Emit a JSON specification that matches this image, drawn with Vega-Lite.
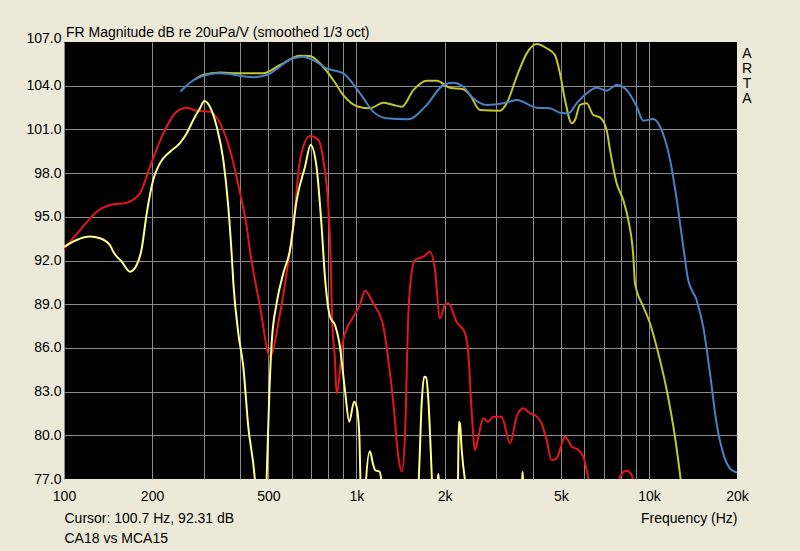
{
  "$schema": "https://vega.github.io/schema/vega-lite/v6.json",
  "width": 673,
  "height": 437,
  "autosize": "none",
  "padding": {"left": 64, "top": 42, "right": 63, "bottom": 72},
  "background": "#ECE9D8",
  "config": {
    "view": {"fill": "#000000", "stroke": null},
    "font": "Liberation Sans"
  },
  "title": {
    "text": "FR Magnitude dB re 20uPa/V (smoothed 1/3 oct)",
    "anchor": "start",
    "frame": "group",
    "fontSize": 14,
    "fontWeight": "normal",
    "font": "Liberation Sans",
    "color": "#000000",
    "baseline": "alphabetic",
    "offset": -20,
    "dx": 2
  },
  "data": {
    "values": [
      {"s": "olive", "f": 281, "db": 104.44},
      {"s": "olive", "f": 299, "db": 104.73},
      {"s": "olive", "f": 341, "db": 104.9},
      {"s": "olive", "f": 400, "db": 104.85},
      {"s": "olive", "f": 480, "db": 104.85},
      {"s": "olive", "f": 548, "db": 105.42},
      {"s": "olive", "f": 641, "db": 106.06},
      {"s": "olive", "f": 693, "db": 106.04},
      {"s": "olive", "f": 750, "db": 105.54},
      {"s": "olive", "f": 833, "db": 104.39},
      {"s": "olive", "f": 901, "db": 103.36},
      {"s": "olive", "f": 1014, "db": 102.56},
      {"s": "olive", "f": 1111, "db": 102.45},
      {"s": "olive", "f": 1236, "db": 102.83},
      {"s": "olive", "f": 1337, "db": 102.68},
      {"s": "olive", "f": 1429, "db": 102.56},
      {"s": "olive", "f": 1565, "db": 103.7},
      {"s": "olive", "f": 1738, "db": 104.34},
      {"s": "olive", "f": 1880, "db": 104.34},
      {"s": "olive", "f": 2088, "db": 103.86},
      {"s": "olive", "f": 2319, "db": 103.75},
      {"s": "olive", "f": 2444, "db": 103.36},
      {"s": "olive", "f": 2644, "db": 102.33},
      {"s": "olive", "f": 3095, "db": 102.28},
      {"s": "olive", "f": 3263, "db": 102.79},
      {"s": "olive", "f": 3530, "db": 104.62},
      {"s": "olive", "f": 3820, "db": 106.22},
      {"s": "olive", "f": 4130, "db": 106.86},
      {"s": "olive", "f": 4467, "db": 106.57},
      {"s": "olive", "f": 4772, "db": 106.1},
      {"s": "olive", "f": 4962, "db": 104.85},
      {"s": "olive", "f": 5165, "db": 103.02},
      {"s": "olive", "f": 5445, "db": 101.42},
      {"s": "olive", "f": 5588, "db": 101.65},
      {"s": "olive", "f": 5809, "db": 102.68},
      {"s": "olive", "f": 6125, "db": 102.79},
      {"s": "olive", "f": 6450, "db": 101.99},
      {"s": "olive", "f": 6800, "db": 101.83},
      {"s": "olive", "f": 7166, "db": 100.96},
      {"s": "olive", "f": 7360, "db": 99.59},
      {"s": "olive", "f": 7755, "db": 97.3},
      {"s": "olive", "f": 8168, "db": 96.15},
      {"s": "olive", "f": 8500, "db": 94.78},
      {"s": "olive", "f": 8844, "db": 92.26},
      {"s": "olive", "f": 8960, "db": 90.43},
      {"s": "olive", "f": 9565, "db": 88.83},
      {"s": "olive", "f": 10080, "db": 87.69},
      {"s": "olive", "f": 10620, "db": 86.08},
      {"s": "olive", "f": 11500, "db": 83.11},
      {"s": "olive", "f": 12270, "db": 79.9},
      {"s": "olive", "f": 12760, "db": 77.39},
      {"s": "olive", "f": 13100, "db": 75.5},

      {"s": "blue", "f": 250, "db": 103.6},
      {"s": "blue", "f": 284, "db": 104.5},
      {"s": "blue", "f": 341.5, "db": 104.85},
      {"s": "blue", "f": 444, "db": 104.58},
      {"s": "blue", "f": 493, "db": 104.73},
      {"s": "blue", "f": 608, "db": 105.88},
      {"s": "blue", "f": 658, "db": 105.99},
      {"s": "blue", "f": 711, "db": 105.76},
      {"s": "blue", "f": 790, "db": 105.19},
      {"s": "blue", "f": 901, "db": 104.85},
      {"s": "blue", "f": 1028, "db": 103.48},
      {"s": "blue", "f": 1141, "db": 102.22},
      {"s": "blue", "f": 1268, "db": 101.76},
      {"s": "blue", "f": 1503, "db": 101.69},
      {"s": "blue", "f": 1738, "db": 102.68},
      {"s": "blue", "f": 1982, "db": 104.05},
      {"s": "blue", "f": 2143, "db": 104.21},
      {"s": "blue", "f": 2319, "db": 103.93},
      {"s": "blue", "f": 2508, "db": 103.13},
      {"s": "blue", "f": 2787, "db": 102.68},
      {"s": "blue", "f": 3177, "db": 102.79},
      {"s": "blue", "f": 3530, "db": 103.02},
      {"s": "blue", "f": 4130, "db": 102.49},
      {"s": "blue", "f": 4582, "db": 102.45},
      {"s": "blue", "f": 4962, "db": 102.15},
      {"s": "blue", "f": 5300, "db": 102.1},
      {"s": "blue", "f": 5660, "db": 102.79},
      {"s": "blue", "f": 6125, "db": 103.48},
      {"s": "blue", "f": 6626, "db": 103.86},
      {"s": "blue", "f": 7166, "db": 103.66},
      {"s": "blue", "f": 7755, "db": 104.05},
      {"s": "blue", "f": 8390, "db": 103.7},
      {"s": "blue", "f": 9080, "db": 102.56},
      {"s": "blue", "f": 9565, "db": 101.6},
      {"s": "blue", "f": 10350, "db": 101.71},
      {"s": "blue", "f": 10910, "db": 101.19},
      {"s": "blue", "f": 11810, "db": 98.9},
      {"s": "blue", "f": 12450, "db": 96.15},
      {"s": "blue", "f": 13100, "db": 92.95},
      {"s": "blue", "f": 13620, "db": 90.66},
      {"s": "blue", "f": 14550, "db": 89.29},
      {"s": "blue", "f": 15330, "db": 87.45},
      {"s": "blue", "f": 16170, "db": 84.25},
      {"s": "blue", "f": 17030, "db": 80.82},
      {"s": "blue", "f": 17940, "db": 78.76},
      {"s": "blue", "f": 18910, "db": 77.73},
      {"s": "blue", "f": 19660, "db": 77.5},
      {"s": "blue", "f": 20000, "db": 77.45},

      {"s": "red", "f": 100, "db": 92.8},
      {"s": "red", "f": 113.4, "db": 94.09},
      {"s": "red", "f": 129.3, "db": 95.35},
      {"s": "red", "f": 143.6, "db": 95.81},
      {"s": "red", "f": 163.7, "db": 95.97},
      {"s": "red", "f": 181.8, "db": 96.61},
      {"s": "red", "f": 196.8, "db": 98.44},
      {"s": "red", "f": 218.6, "db": 100.73},
      {"s": "red", "f": 242.7, "db": 102.22},
      {"s": "red", "f": 262.8, "db": 102.49},
      {"s": "red", "f": 284, "db": 102.28},
      {"s": "red", "f": 315.4, "db": 102.22},
      {"s": "red", "f": 341.5, "db": 101.42},
      {"s": "red", "f": 369.4, "db": 99.59},
      {"s": "red", "f": 400, "db": 96.61},
      {"s": "red", "f": 421.2, "db": 94.32},
      {"s": "red", "f": 432, "db": 92.72},
      {"s": "red", "f": 468, "db": 88.83},
      {"s": "red", "f": 506, "db": 85.4},
      {"s": "red", "f": 548, "db": 88.38},
      {"s": "red", "f": 592.6, "db": 92.72},
      {"s": "red", "f": 608, "db": 94.32},
      {"s": "red", "f": 641, "db": 98.9},
      {"s": "red", "f": 693, "db": 100.55},
      {"s": "red", "f": 741, "db": 100.27},
      {"s": "red", "f": 770, "db": 98.9},
      {"s": "red", "f": 801, "db": 95.69},
      {"s": "red", "f": 815, "db": 92.5},
      {"s": "red", "f": 825, "db": 88.1},
      {"s": "red", "f": 844, "db": 85.2},
      {"s": "red", "f": 855, "db": 82.88},
      {"s": "red", "f": 901, "db": 86.54},
      {"s": "red", "f": 975, "db": 88.14},
      {"s": "red", "f": 1028, "db": 88.95},
      {"s": "red", "f": 1068, "db": 89.93},
      {"s": "red", "f": 1141, "db": 89.06},
      {"s": "red", "f": 1236, "db": 87.45},
      {"s": "red", "f": 1285, "db": 85.17},
      {"s": "red", "f": 1337, "db": 82.2},
      {"s": "red", "f": 1390, "db": 78.53},
      {"s": "red", "f": 1429, "db": 77.5},
      {"s": "red", "f": 1466, "db": 80.14},
      {"s": "red", "f": 1503, "db": 88.14},
      {"s": "red", "f": 1525, "db": 90.2},
      {"s": "red", "f": 1584, "db": 92.03},
      {"s": "red", "f": 1693, "db": 92.26},
      {"s": "red", "f": 1784, "db": 92.6},
      {"s": "red", "f": 1855, "db": 91.35},
      {"s": "red", "f": 1930, "db": 88.03},
      {"s": "red", "f": 2007, "db": 88.95},
      {"s": "red", "f": 2061, "db": 89.06},
      {"s": "red", "f": 2198, "db": 87.8},
      {"s": "red", "f": 2349, "db": 87.0},
      {"s": "red", "f": 2411, "db": 85.63},
      {"s": "red", "f": 2475, "db": 81.74},
      {"s": "red", "f": 2542, "db": 78.99},
      {"s": "red", "f": 2610, "db": 79.9},
      {"s": "red", "f": 2714, "db": 81.17},
      {"s": "red", "f": 2818, "db": 80.93},
      {"s": "red", "f": 2936, "db": 81.28},
      {"s": "red", "f": 3133, "db": 81.28},
      {"s": "red", "f": 3350, "db": 79.45},
      {"s": "red", "f": 3530, "db": 81.28},
      {"s": "red", "f": 3718, "db": 81.85},
      {"s": "red", "f": 3918, "db": 81.51},
      {"s": "red", "f": 4076, "db": 81.39},
      {"s": "red", "f": 4295, "db": 80.82},
      {"s": "red", "f": 4467, "db": 79.68},
      {"s": "red", "f": 4645, "db": 78.3},
      {"s": "red", "f": 4834, "db": 78.42},
      {"s": "red", "f": 5165, "db": 79.9},
      {"s": "red", "f": 5445, "db": 79.22},
      {"s": "red", "f": 5735, "db": 78.99},
      {"s": "red", "f": 5963, "db": 78.53},
      {"s": "red", "f": 6125, "db": 77.62},
      {"s": "red", "f": 6283, "db": 76.5},
      {"s": "red", "f": 7000, "db": 72.0},
      {"s": "red", "f": 7800, "db": 76.3},
      {"s": "red", "f": 7960, "db": 77.16},
      {"s": "red", "f": 8390, "db": 77.57},
      {"s": "red", "f": 8730, "db": 77.28},
      {"s": "red", "f": 9000, "db": 75.5},

      {"s": "yellow", "f": 100, "db": 92.93},
      {"s": "yellow", "f": 110.5, "db": 93.41},
      {"s": "yellow", "f": 122.7, "db": 93.64},
      {"s": "yellow", "f": 132.7, "db": 93.53},
      {"s": "yellow", "f": 143.6, "db": 93.06},
      {"s": "yellow", "f": 147.4, "db": 92.6},
      {"s": "yellow", "f": 157.5, "db": 91.92},
      {"s": "yellow", "f": 168.1, "db": 91.23},
      {"s": "yellow", "f": 177.2, "db": 91.69},
      {"s": "yellow", "f": 184, "db": 92.72},
      {"s": "yellow", "f": 191.8, "db": 95.24},
      {"s": "yellow", "f": 201.8, "db": 97.53},
      {"s": "yellow", "f": 212.7, "db": 98.67},
      {"s": "yellow", "f": 230.4, "db": 99.47},
      {"s": "yellow", "f": 249.2, "db": 100.05},
      {"s": "yellow", "f": 262.8, "db": 100.73},
      {"s": "yellow", "f": 276.7, "db": 101.65},
      {"s": "yellow", "f": 291.7, "db": 102.45},
      {"s": "yellow", "f": 301.8, "db": 102.95},
      {"s": "yellow", "f": 315.4, "db": 102.56},
      {"s": "yellow", "f": 332.7, "db": 101.19},
      {"s": "yellow", "f": 350.5, "db": 98.9},
      {"s": "yellow", "f": 364.5, "db": 95.69},
      {"s": "yellow", "f": 374.2, "db": 92.49},
      {"s": "yellow", "f": 379.4, "db": 90.43},
      {"s": "yellow", "f": 394.5, "db": 87.0},
      {"s": "yellow", "f": 410.2, "db": 84.71},
      {"s": "yellow", "f": 426.6, "db": 80.59},
      {"s": "yellow", "f": 449.6, "db": 76.9},
      {"s": "yellow", "f": 470, "db": 70.0},
      {"s": "yellow", "f": 492, "db": 76.5},
      {"s": "yellow", "f": 503.5, "db": 82.88},
      {"s": "yellow", "f": 512.8, "db": 86.31},
      {"s": "yellow", "f": 533.3, "db": 89.06},
      {"s": "yellow", "f": 562, "db": 91.12},
      {"s": "yellow", "f": 592.6, "db": 92.72},
      {"s": "yellow", "f": 624.5, "db": 96.15},
      {"s": "yellow", "f": 667, "db": 98.44},
      {"s": "yellow", "f": 697, "db": 99.93},
      {"s": "yellow", "f": 730, "db": 98.44},
      {"s": "yellow", "f": 760, "db": 94.32},
      {"s": "yellow", "f": 780, "db": 90.89},
      {"s": "yellow", "f": 812, "db": 88.14},
      {"s": "yellow", "f": 844.5, "db": 87.57},
      {"s": "yellow", "f": 878, "db": 86.08},
      {"s": "yellow", "f": 913, "db": 83.11},
      {"s": "yellow", "f": 945, "db": 80.93},
      {"s": "yellow", "f": 981, "db": 82.31},
      {"s": "yellow", "f": 1001, "db": 81.96},
      {"s": "yellow", "f": 1022, "db": 80.14},
      {"s": "yellow", "f": 1032, "db": 76.8},
      {"s": "yellow", "f": 1052, "db": 72.0},
      {"s": "yellow", "f": 1075, "db": 76.5},
      {"s": "yellow", "f": 1111, "db": 78.9},
      {"s": "yellow", "f": 1140, "db": 78.0},
      {"s": "yellow", "f": 1160, "db": 77.6},
      {"s": "yellow", "f": 1200, "db": 77.5},
      {"s": "yellow", "f": 1225, "db": 76.5},
      {"s": "yellow", "f": 1400, "db": 70.0},
      {"s": "yellow", "f": 1625, "db": 76.3},
      {"s": "yellow", "f": 1673, "db": 82.42},
      {"s": "yellow", "f": 1703, "db": 84.02},
      {"s": "yellow", "f": 1730, "db": 83.98},
      {"s": "yellow", "f": 1761, "db": 82.42},
      {"s": "yellow", "f": 1794, "db": 78.99},
      {"s": "yellow", "f": 1815, "db": 76.5},
      {"s": "yellow", "f": 1860, "db": 74.0},
      {"s": "yellow", "f": 1897, "db": 76.9},
      {"s": "yellow", "f": 1905, "db": 77.35},
      {"s": "yellow", "f": 1913, "db": 76.9},
      {"s": "yellow", "f": 2050, "db": 72.0},
      {"s": "yellow", "f": 2222, "db": 76.5},
      {"s": "yellow", "f": 2238, "db": 80.93},
      {"s": "yellow", "f": 2258, "db": 80.8},
      {"s": "yellow", "f": 2290, "db": 78.99},
      {"s": "yellow", "f": 2367, "db": 76.5},
      {"s": "yellow", "f": 3000, "db": 70.0},
      {"s": "yellow", "f": 3685, "db": 76.8},
      {"s": "yellow", "f": 3698, "db": 77.5},
      {"s": "yellow", "f": 3711, "db": 76.8},
      {"s": "yellow", "f": 4000, "db": 70.0}
    ]
  },
  "encoding": {
    "x": {
      "field": "f",
      "type": "quantitative",
      "scale": {"type": "log", "domain": [100, 20000], "nice": false}
    },
    "y": {
      "field": "db",
      "type": "quantitative",
      "scale": {"domain": [77, 107], "nice": false, "zero": false}
    },
    "color": {
      "field": "s",
      "type": "nominal",
      "legend": null,
      "scale": {
        "domain": ["olive", "blue", "red", "yellow"],
        "range": ["#C0C62E", "#4A80C4", "#E3161B", "#FFFF8C"]
      }
    }
  },
  "layer": [
    {
      "transform": [{"filter": {"field": "s", "oneOf": ["red", "yellow"]}}],
      "mark": {"type": "line", "clip": true, "strokeWidth": 2, "interpolate": "monotone"},
      "encoding": {
        "x": {
          "field": "f",
          "type": "quantitative",
          "axis": {
            "values": [100, 200, 300, 400, 500, 600, 700, 800, 900, 1000, 2000, 3000, 4000, 5000, 6000, 7000, 8000, 9000, 10000, 20000],
            "labelExpr": "indexof([100,200,500,1000,2000,5000,10000,20000], datum.value) >= 0 ? (datum.value >= 1000 ? (datum.value/1000) + 'k' : datum.value + '') : ''",
            "ticks": false,
            "domain": false,
            "grid": true,
            "gridColor": "#8C8C8C",
            "gridWidth": 1,
            "gridOpacity": {"condition": {"test": "datum.value == 20000", "value": 0}, "value": 1},
            "labelFontSize": 14,
            "labelColor": "#000000",
            "labelPadding": 10,
            "labelBaseline": "top",
            "labelAlign": "center",
            "labelFlush": false,
            "labelOverlap": false,
            "labelBound": false,
            "title": "Frequency (Hz)",
            "titleFontSize": 14,
            "titleFontWeight": "normal",
            "titleColor": "#000000",
            "titleAlign": "right",
            "titleBaseline": "top",
            "titleX": 673,
            "titleY": 32
          }
        },
        "y": {
          "field": "db",
          "type": "quantitative",
          "axis": {
            "values": [77, 80, 83, 86, 89, 92, 95, 98, 101, 104, 107],
            "format": ".1f",
            "ticks": false,
            "domain": false,
            "grid": true,
            "gridColor": "#8C8C8C",
            "gridWidth": 1,
            "gridOpacity": {"condition": {"test": "datum.value == 77 || datum.value == 107", "value": 0}, "value": 1},
            "labelFontSize": 14,
            "labelColor": "#000000",
            "labelPadding": 3,
            "labelAlign": "right",
            "labelBaseline": {"condition": {"test": "datum.value == 107", "value": "alphabetic"}, "value": "middle"},
            "labelFlush": false,
            "labelOverlap": false,
            "labelBound": false,
            "title": ["Cursor: 100.7 Hz, 92.31 dB", "CA18 vs MCA15"],
            "titleFontSize": 14,
            "titleFontWeight": "normal",
            "titleColor": "#000000",
            "titleAngle": 0,
            "titleAlign": "left",
            "titleBaseline": "top",
            "titleLineHeight": 20,
            "titleX": 0,
            "titleY": 469
          }
        }
      }
    },
    {
      "transform": [{"filter": {"field": "s", "oneOf": ["olive", "blue"]}}],
      "mark": {"type": "line", "clip": true, "strokeWidth": 2, "interpolate": "monotone"},
      "encoding": {
        "y": {
          "field": "db",
          "type": "quantitative",
          "axis": {
            "orient": "right",
            "labels": false,
            "ticks": false,
            "domain": false,
            "grid": false,
            "title": ["A", "R", "T", "A"],
            "titleFontSize": 14,
            "titleFontWeight": "normal",
            "titleColor": "#000000",
            "titleAngle": 0,
            "titleAlign": "center",
            "titleBaseline": "top",
            "titleLineHeight": 15.3,
            "titleX": 9.5,
            "titleY": 4
          }
        }
      }
    }
  ],
  "resolve": {"axis": {"y": "independent"}}
}
